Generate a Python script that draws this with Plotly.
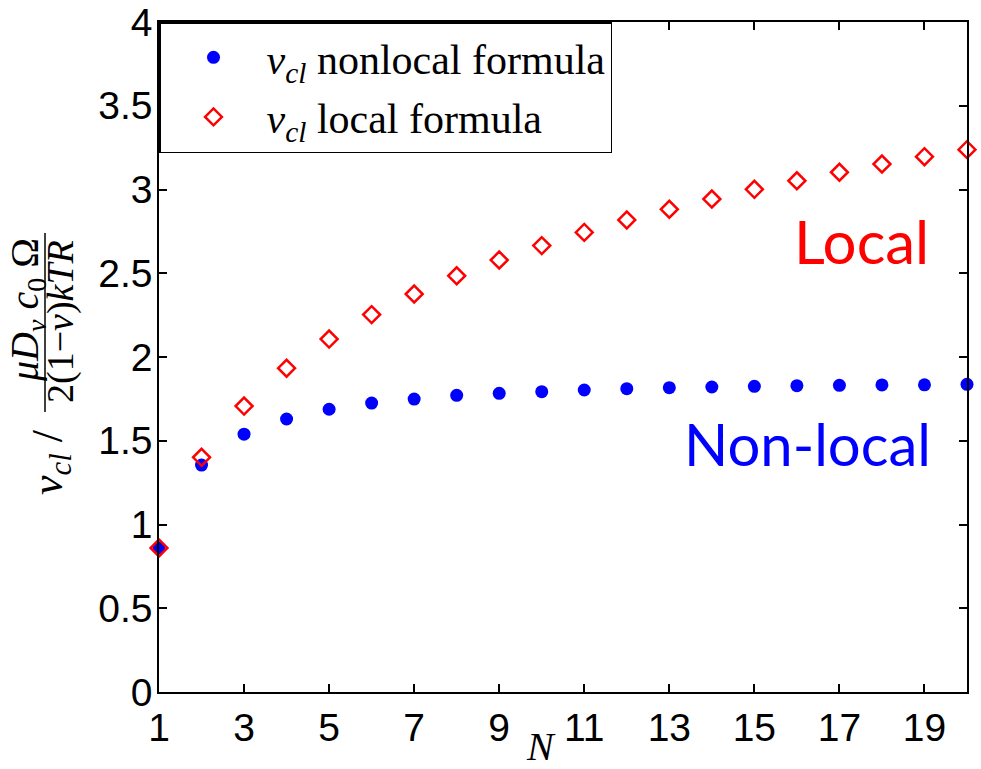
import plotly.graph_objects as go

N = list(range(1, 21))
nonlocal_vals = [0.86, 1.355, 1.539, 1.630, 1.688, 1.725, 1.749, 1.771, 1.783, 1.793,
                 1.803, 1.811, 1.817, 1.821, 1.825, 1.829, 1.831, 1.833, 1.834, 1.837]
local_vals = [0.86, 1.401, 1.707, 1.933, 2.107, 2.253, 2.376, 2.485, 2.579, 2.665,
              2.744, 2.818, 2.882, 2.943, 3.001, 3.052, 3.103, 3.152, 3.196, 3.238]
x_ticks = [1, 3, 5, 7, 9, 11, 13, 15, 17, 19]
y_ticks = [0, 0.5, 1, 1.5, 2, 2.5, 3, 3.5, 4]
y_ticklabels = ["0", "0.5", "1", "1.5", "2", "2.5", "3", "3.5", "4"]

W, H = 981, 769
L, R, T, B = 159, 14, 22, 77
pw, ph = W - L - R, H - T - B

def px(x):
    return (x - L) / pw

def py(y):
    return (H - B - y) / ph

SERIF = "Liberation Serif"
SANS = "Liberation Sans"

fig = go.Figure()
fig.add_trace(go.Scatter(
    x=N, y=nonlocal_vals, mode="markers", cliponaxis=False,
    name="<i>v</i><sub><i>cl</i></sub> nonlocal formula", legendgroup="a",
    marker=dict(symbol="circle", size=13, color="#0000FF"),
))
fig.add_trace(go.Scatter(
    x=N, y=local_vals, mode="markers", cliponaxis=False,
    name="<i>v</i><sub><i>cl</i></sub> local formula", legendgroup="b",
    marker=dict(symbol="diamond-open", size=13, color="#FF0000",
                line=dict(color="#FF0000", width=2.5)),
))

axis_common = dict(showgrid=False, zeroline=False, showline=True, linecolor="black",
                   linewidth=1.5, mirror="ticks", ticks="inside", ticklen=8,
                   tickcolor="black", tickwidth=1.5, automargin=False,
                   tickfont=dict(family=SANS, size=39, color="black"))

fig.update_xaxes(range=[1, 20], tickvals=x_ticks, ticktext=[str(v) for v in x_ticks],
                 **axis_common)
fig.update_yaxes(range=[0, 4], tickvals=y_ticks, ticktext=y_ticklabels,
                 ticklabelstandoff=-3, **axis_common)

annotations = [
    dict(text="Local", x=px(931), y=py(241), xref="paper", yref="paper",
         xanchor="right", yanchor="middle", showarrow=False,
         font=dict(family="Lato", size=60, color="#FF0000")),
    dict(text="Non-local", x=px(933), y=py(444), xref="paper", yref="paper",
         xanchor="right", yanchor="middle", showarrow=False,
         font=dict(family="Lato", size=58, color="#0000FF")),
    dict(text="<i>N</i>", x=px(541), y=py(746), xref="paper", yref="paper",
         xanchor="center", yanchor="middle", showarrow=False,
         font=dict(family=SERIF, size=40, color="black")),
    dict(text="<i>v</i><sub><i>cl</i></sub> /", x=px(50), y=py(462), xref="paper",
         yref="paper", xanchor="center", yanchor="middle", showarrow=False,
         textangle=-90, font=dict(family=SERIF, size=44, color="black")),
    dict(text="<i>μD</i><sub><i>v</i></sub> <i>c</i><sub>0</sub> Ω", x=px(27), y=py(310),
         xref="paper", yref="paper", xanchor="center", yanchor="middle",
         showarrow=False, textangle=-90, font=dict(family=SERIF, size=40, color="black")),
    dict(text="2(1−<i>ν</i>)<i>kTR</i>", x=px(60), y=py(322), xref="paper", yref="paper",
         xanchor="center", yanchor="middle", showarrow=False, textangle=-90,
         font=dict(family=SERIF, size=38, color="black")),
]

fig.add_shape(type="line", xref="paper", yref="paper", x0=px(45), x1=px(45),
              y0=py(233), y1=py(412), line=dict(color="black", width=1.5))

fig.update_layout(
    width=W, height=H, margin=dict(l=L, r=R, t=T, b=B, autoexpand=False),
    paper_bgcolor="white", plot_bgcolor="white",
    annotations=annotations,
    legend=dict(x=0, y=1, xanchor="left", yanchor="top", bgcolor="white",
                bordercolor="black", borderwidth=1.5, itemwidth=96,
                tracegroupgap=2, traceorder="grouped",
                font=dict(family=SERIF, size=42, color="black")),
)

fig.write_html("out.html")
